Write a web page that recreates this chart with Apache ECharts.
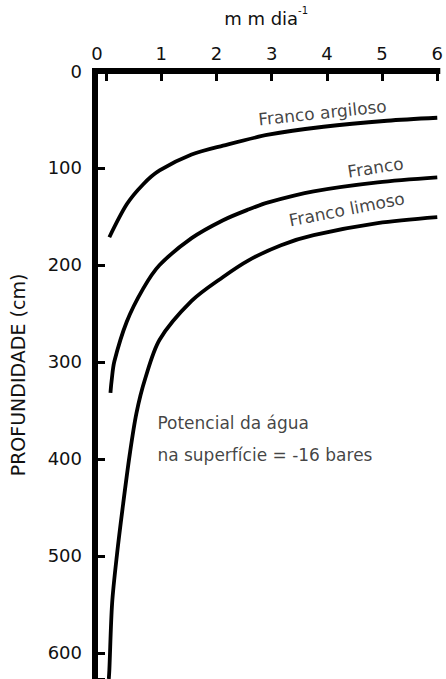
<!DOCTYPE html>
<html>
<head>
<meta charset="utf-8">
<script src="https://cdn.jsdelivr.net/npm/echarts@6/dist/echarts.min.js"></script>
<style>
  html, body { margin: 0; padding: 0; background: #fff; }
  #chart { width: 446px; height: 679px; }
</style>
</head>
<body>
<div id="chart"></div>
<script>
// Evaporation rate (mm/day) versus depth of the water table (cm) for three soil textures
const xTicks = [0, 1, 2, 3, 4, 5, 6];
const yTicks = [0, 100, 200, 300, 400, 500, 600];

// [taxa mm/dia, profundidade cm]
const francoArgiloso = [
  [0.06, 171.4], [0.375, 137.5], [0.67, 117], [0.97, 102.6], [1.55, 86.2],
  [2.12, 77], [2.94, 65.7], [3.94, 57.5], [5.09, 51.3], [6.0, 48.2]
];
const franco = [
  [0.08, 332], [0.1, 320], [0.15, 299.6], [0.375, 258.6], [0.67, 224.7],
  [0.97, 200.1], [1.55, 172.4], [2.12, 153.9], [2.59, 142.6], [2.94, 135.5],
  [3.76, 124.2], [4.92, 114.9], [6.0, 109.8]
];
const francoLimoso = [
  [0.05, 627], [0.06, 617.8], [0.11, 549], [0.2, 497.7], [0.31, 446.4],
  [0.43, 395.1], [0.55, 353], [0.71, 317.1], [0.97, 277.1], [1.55, 237.1],
  [2.12, 212.4], [2.59, 195], [3.17, 179.6], [3.76, 169.3], [4.92, 157], [6.0, 150.8]
];

const curveNames = ['Franco argiloso', 'Franco', 'Franco limoso'];
const curveLabelAt = [[3.92, 43], [4.88, 99.5], [4.36, 142.6]];
const curveLabelTilt = [6, 9, 11];

const noteText = 'Potencial da água\nna superfície = -16 bares';
const noteAt = [0.93, 380];

const FONT = 'DejaVu Sans';
const INK = '#111';

const chart = echarts.init(document.getElementById('chart'), null, { renderer: 'svg' });

function curve(name, data) {
  return {
    name: name,
    type: 'line',
    data: data,
    smooth: 0.3,
    symbol: 'none',
    lineStyle: { color: '#000', width: 3.8 },
    silent: true,
    z: 3
  };
}

chart.setOption({
  animation: false,
  backgroundColor: '#fff',
  grid: { left: 91, top: 68, right: 0, bottom: 0, containLabel: false },
  xAxis: {
    type: 'value',
    position: 'top',
    min: -0.2,
    max: 6,
    name: '{a|m m dia}{s|-1}',
    nameLocation: 'middle',
    nameGap: 44,
    nameTextStyle: {
      rich: {
        a: { fontFamily: FONT, fontSize: 18, color: INK, lineHeight: 22, verticalAlign: 'bottom' },
        s: { fontFamily: FONT, fontSize: 10, color: INK, lineHeight: 22, verticalAlign: 'top' }
      }
    },
    splitLine: { show: false },
    axisLine: { show: true, onZero: false, lineStyle: { color: '#000', width: 6, cap: 'square' } },
    axisTick: { show: true, inside: true, length: 10, customValues: xTicks, lineStyle: { color: '#000', width: 3 } },
    axisLabel: {
      customValues: xTicks,
      margin: 9,
      fontFamily: FONT, fontSize: 18, color: INK,
      showMinLabel: true, showMaxLabel: true,
      formatter: v => (v === 0 ? '{z|0}' : String(v)),
      rich: { z: { fontFamily: FONT, fontSize: 18, color: INK, padding: [0, 18, 0, 0] } }
    }
  },
  yAxis: {
    type: 'value',
    inverse: true,
    min: 0,
    max: 627,
    interval: 100,
    name: 'PROFUNDIDADE (cm)',
    nameLocation: 'middle',
    nameGap: 68,
    nameRotate: 90,
    nameTextStyle: { fontFamily: FONT, fontSize: 19, color: INK },
    splitLine: { show: false },
    axisLine: { show: true, onZero: false, lineStyle: { color: '#000', width: 6, cap: 'square' } },
    axisTick: { show: true, inside: true, length: 10, lineStyle: { color: '#000', width: 3 } },
    axisLabel: {
      margin: 13,
      fontFamily: FONT, fontSize: 18, color: INK,
      formatter: v => (yTicks.indexOf(v) >= 0 ? String(v) : '')
    }
  },
  series: [
    curve(curveNames[0], francoArgiloso),
    curve(curveNames[1], franco),
    curve(curveNames[2], francoLimoso),
    {
      name: 'rótulos',
      type: 'scatter',
      symbolSize: 0,
      silent: true,
      z: 4,
      data: curveNames.map((n, i) => ({
        value: curveLabelAt[i],
        name: n,
        label: { rotate: curveLabelTilt[i] }
      })),
      label: {
        show: true,
        position: 'inside',
        formatter: p => p.name,
        fontFamily: FONT,
        fontSize: 17,
        color: INK
      }
    },
    {
      name: 'nota',
      type: 'scatter',
      symbolSize: 0,
      silent: true,
      z: 4,
      data: [{ value: noteAt, name: noteText }],
      label: {
        show: true,
        position: 'inside',
        align: 'left',
        verticalAlign: 'middle',
        formatter: p => p.name,
        fontFamily: FONT,
        fontSize: 17,
        lineHeight: 32,
        color: INK
      }
    }
  ]
});
</script>
</body>
</html>
